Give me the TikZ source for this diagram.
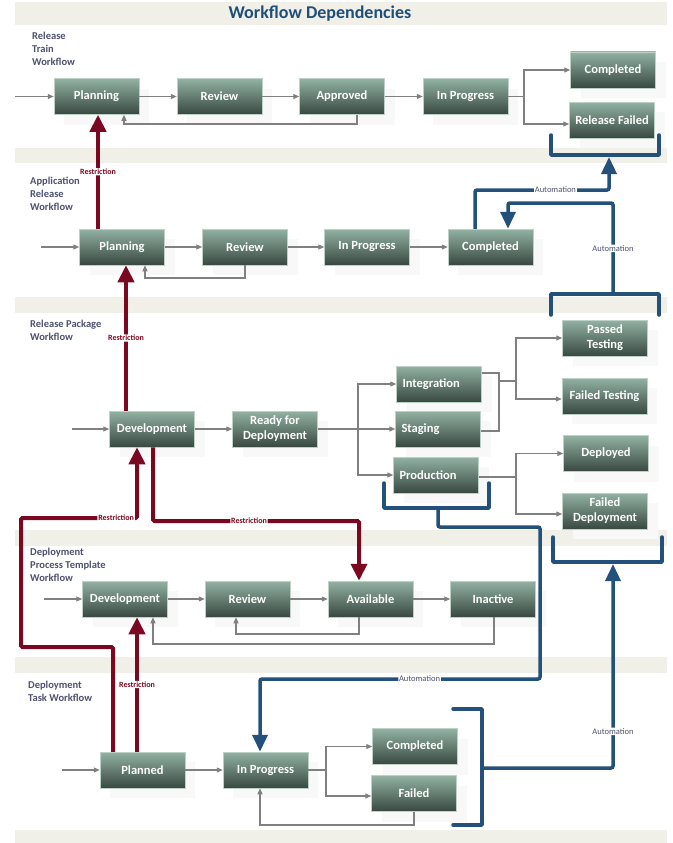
\documentclass[tikz,border=0pt]{standalone}
\usepackage{fontspec}
\setmainfont{Carlito}
\usetikzlibrary{arrows.meta,shadows}
\definecolor{bandcol}{RGB}{240,240,233}
\definecolor{ntop}{RGB}{146,178,162}
\definecolor{nbot}{RGB}{56,72,65}
\definecolor{flowgray}{RGB}{128,128,128}
\definecolor{restrred}{RGB}{122,8,32}
\definecolor{autoblue}{RGB}{36,80,124}
\definecolor{lblcol}{RGB}{78,82,112}
\definecolor{titlecol}{RGB}{31,78,121}
\definecolor{shadecol}{RGB}{248,248,248}
\begin{document}
\begin{tikzpicture}[x=1pt,y=-1pt,
  band/.style={fill=bandcol, draw=none},
  wfnode/.style={rectangle, minimum width=85pt, minimum height=36pt, inner sep=1pt,
    top color=ntop, bottom color=nbot, draw=ntop!60!white, line width=0.5pt,
    text=white, font=\bfseries\fontsize{12.5}{15}\selectfont, align=center,
    general shadow={fill=shadecol, draw=none, shadow xshift=10pt, shadow yshift=-10pt}},
  wfleft/.style={wfnode, align=left, text width=73pt, inner xsep=6pt},
  wflabel/.style={anchor=north west, inner sep=0pt, align=left, text=lblcol,
    font=\bfseries\fontsize{10.5}{13}\selectfont},
  flow/.style={draw=flowgray, line width=1.2pt, -{Triangle[length=6pt,width=5pt]}},
  fline/.style={draw=flowgray, line width=1.2pt},
  restr/.style={draw=restrred, line width=4pt, rounded corners=1.5pt,
    -{Triangle[length=17pt,width=16pt]}},
  rlbl/.style={fill=white, inner sep=0.8pt, text=restrred,
    font=\bfseries\fontsize{8}{9}\selectfont},
  autoc/.style={draw=autoblue, line width=3.5pt, rounded corners=2pt,
    -{Triangle[length=17pt,width=15pt]}},
  bracketline/.style={draw=autoblue, line width=3.5pt, line cap=round, line join=round},
  albl/.style={fill=white, inner sep=0.8pt, text=lblcol,
    font=\fontsize{8.5}{10}\selectfont}
]
\useasboundingbox (0,0) rectangle (672,843);
\fill[white] (0,0) rectangle (672,843);
% bands
\path[band] (15,2) rectangle (667,25);
\path[band] (15,148) rectangle (667,163);
\path[band] (15,297) rectangle (667,313);
\path[band] (15,530) rectangle (667,546);
\path[band] (15,657) rectangle (667,673);
\path[band] (15,830) rectangle (667,843);
% title
\node[text=titlecol, font=\bfseries\fontsize{18}{20}\selectfont] (title) at (320,14) {Workflow Dependencies};
% lane labels
\node[wflabel] (lab1) at (32,32) {Release\\Train\\Workflow};
\node[wflabel] (lab2) at (30,177) {Application\\Release\\Workflow};
\node[wflabel] (lab3) at (30,320) {Release Package\\Workflow};
\node[wflabel] (lab4) at (30,548) {Deployment\\Process Template\\Workflow};
\node[wflabel] (lab5) at (28,681) {Deployment\\Task Workflow};
% row 1
\node[wfnode] (rtPlan) at (96.5,96.5) {Planning};
\node[wfnode] (rtRev) at (219.5,96.5) {Review};
\node[wfnode] (rtAppr) at (342,96.5) {Approved};
\node[wfnode] (rtProg) at (465.5,96.5) {In Progress};
\node[wfnode] (rtComp) at (613,70) {Completed};
\node[wfnode] (rtFail) at (612,120) {Release Failed};
% row 2
\node[wfnode] (arPlan) at (122,247) {Planning};
\node[wfnode] (arRev) at (245,247) {Review};
\node[wfnode] (arProg) at (367,247) {In Progress};
\node[wfnode] (arComp) at (490.5,247) {Completed};
% row 3
\node[wfnode] (rpPass) at (605,338) {Passed\\Testing};
\node[wfleft] (rpInt) at (439,384) {Integration};
\node[wfnode] (rpFailT) at (604.5,396) {Failed Testing};
\node[wfnode] (rpDev) at (152,429) {Development};
\node[wfnode] (rpReady) at (275,429) {Ready for\\Deployment};
\node[wfleft] (rpStag) at (438,429) {Staging};
\node[wfnode] (rpDepl) at (606,453.5) {Deployed};
\node[wfleft] (rpProd) at (436,475) {Production};
\node[wfnode] (rpFailD) at (605,511) {Failed\\Deployment};
% row 4
\node[wfnode] (pdDev) at (125,599) {Development};
\node[wfnode] (pdRev) at (247.5,599) {Review};
\node[wfnode] (pdAvail) at (370.5,599) {Available};
\node[wfnode] (pdInact) at (493,599) {Inactive};
% row 5
\node[wfnode] (dtComp) at (415,746.5) {Completed};
\node[wfnode] (dtPlan) at (142.5,770) {Planned};
\node[wfnode] (dtProg) at (265.5,770) {In Progress};
\node[wfnode] (dtFail) at (414,793.5) {Failed};

% gray flows row 1
\coordinate (rtIn) at (15,96.5);
\draw[flow] (rtIn) -- (rtPlan.west);
\draw[flow] (rtPlan.east) -- (rtRev.west);
\draw[flow] (rtRev.east) -- (rtAppr.west);
\draw[flow] (rtAppr.east) -- (rtProg.west);
\draw[flow] (rtProg.east) -- (524,96.5) |- (rtComp.west);
\draw[flow] (524,96.5) |- ([yshift=-4pt]rtFail.west);
\draw[flow] (357,0 |- rtAppr.south) |- (124,124) -- (124,0 |- rtPlan.south);
% row 2
\coordinate (arIn) at (41,247);
\draw[flow] (arIn) -- (arPlan.west);
\draw[flow] (arPlan.east) -- (arRev.west);
\draw[flow] (arRev.east) -- (arProg.west);
\draw[flow] (arProg.east) -- (arComp.west);
\draw[flow] (245,0 |- arRev.south) |- (145,278) -- (145,0 |- arPlan.south);
% row 3
\coordinate (rpIn) at (72,429);
\draw[flow] (rpIn) -- (rpDev.west);
\draw[flow] (rpDev.east) -- (rpReady.west);
\draw[flow] (rpReady.east) -- (rpStag.west);
\draw[flow] (358,429) |- (rpInt.west);
\draw[flow] (358,429) |- (rpProd.west);
\draw[fline] ([yshift=11pt]rpInt.east) -| (499,431) -- ([yshift=-2pt]rpStag.east);
\draw[fline] (499,381) -- (516,381);
\draw[flow] (516,381) |- (rpPass.west);
\draw[flow] (516,381) |- ([yshift=-3pt]rpFailT.west);
\draw[fline] ([yshift=-2pt]rpProd.east) -- (516,477);
\draw[flow] (516,477) |- (rpDepl.west);
\draw[flow] (516,477) |- ([yshift=-3pt]rpFailD.west);
% row 4
\coordinate (pdIn) at (44,599);
\draw[flow] (pdIn) -- (pdDev.west);
\draw[flow] (pdDev.east) -- (pdRev.west);
\draw[flow] (pdRev.east) -- (pdAvail.west);
\draw[flow] (pdAvail.east) -- (pdInact.west);
\draw[flow] (359,0 |- pdAvail.south) |- (236,634) -- (236,0 |- pdRev.south);
\draw[flow] (494,0 |- pdInact.south) |- (153,644) -- (153,0 |- pdDev.south);
% row 5
\coordinate (dtIn) at (62,770);
\draw[flow] (dtIn) -- (dtPlan.west);
\draw[flow] (dtPlan.east) -- (dtProg.west);
\draw[flow] (dtProg.east) -- (326,770) |- (dtComp.west);
\draw[flow] (326,770) |- ([yshift=-2.5pt]dtFail.west);
\draw[flow] (414,0 |- dtFail.south) |- (260,825) -- (260,0 |- dtProg.south);

% restrictions
\draw[restr] (98,0 |- arPlan.north) -- node[rlbl,pos=0.5] (rl1) {Restriction} (98,0 |- rtPlan.south);
\draw[restr] (126,0 |- rpDev.north) -- node[rlbl,pos=0.5] (rl2) {Restriction} (126,0 |- arPlan.south);
\draw[restr] (153,0 |- rpDev.south) -- (153,521) -- node[rlbl,pos=0.466] (rl3) {Restriction} (359,521) -- (359,0 |- pdAvail.north);
\draw[restr] (113,0 |- dtPlan.north) -- (113,647) -- (21,647) -- (21,518) -- node[rlbl,pos=0.82] (rl4) {Restriction} (137,518) -- (137,0 |- rpDev.south);
\draw[restr] (137,0 |- dtPlan.north) -- node[rlbl,pos=0.5] (rl5) {Restriction} (137,0 |- pdDev.south);

% automation brackets
\draw[bracketline] (551,135) -- (551,155) -- (659,155) -- (659,135);
\draw[bracketline] (551,315) -- (551,294) -- (659,294) -- (659,315);
\draw[bracketline] (384,483) -- (384,508) -- (489,508) -- (489,483);
\draw[bracketline] (453,709) -- (482,709) -- (482,825) -- (453,825);
\draw[bracketline] (553,537) -- (553,562) -- (662,562) -- (662,537);
\coordinate (br1) at (609,157);
\coordinate (br2) at (613,292);
\coordinate (br3) at (438,510);
\coordinate (br4) at (484,768);
\coordinate (br5) at (613,564);
% automation connectors
\draw[autoc] (475,0 |- arComp.north) -- (475,190) -- node[albl,pos=0.6] (al1) {Automation} (609,190) -- (br1);
\draw[autoc] (br2) -- node[albl,pos=0.49] (al2) {Automation} (613,203) -- (508,203) -- (508,0 |- arComp.north);
\draw[autoc] (br3) -- (438,527) -- (540,527) -- (540,679) -- node[albl,pos=0.43] (al3) {Automation} (260,679) -- (260,0 |- dtProg.north);
\draw[autoc] (br4) -- (613,768) -- node[albl,pos=0.18] (al4) {Automation} (br5);
\end{tikzpicture}
\end{document}
